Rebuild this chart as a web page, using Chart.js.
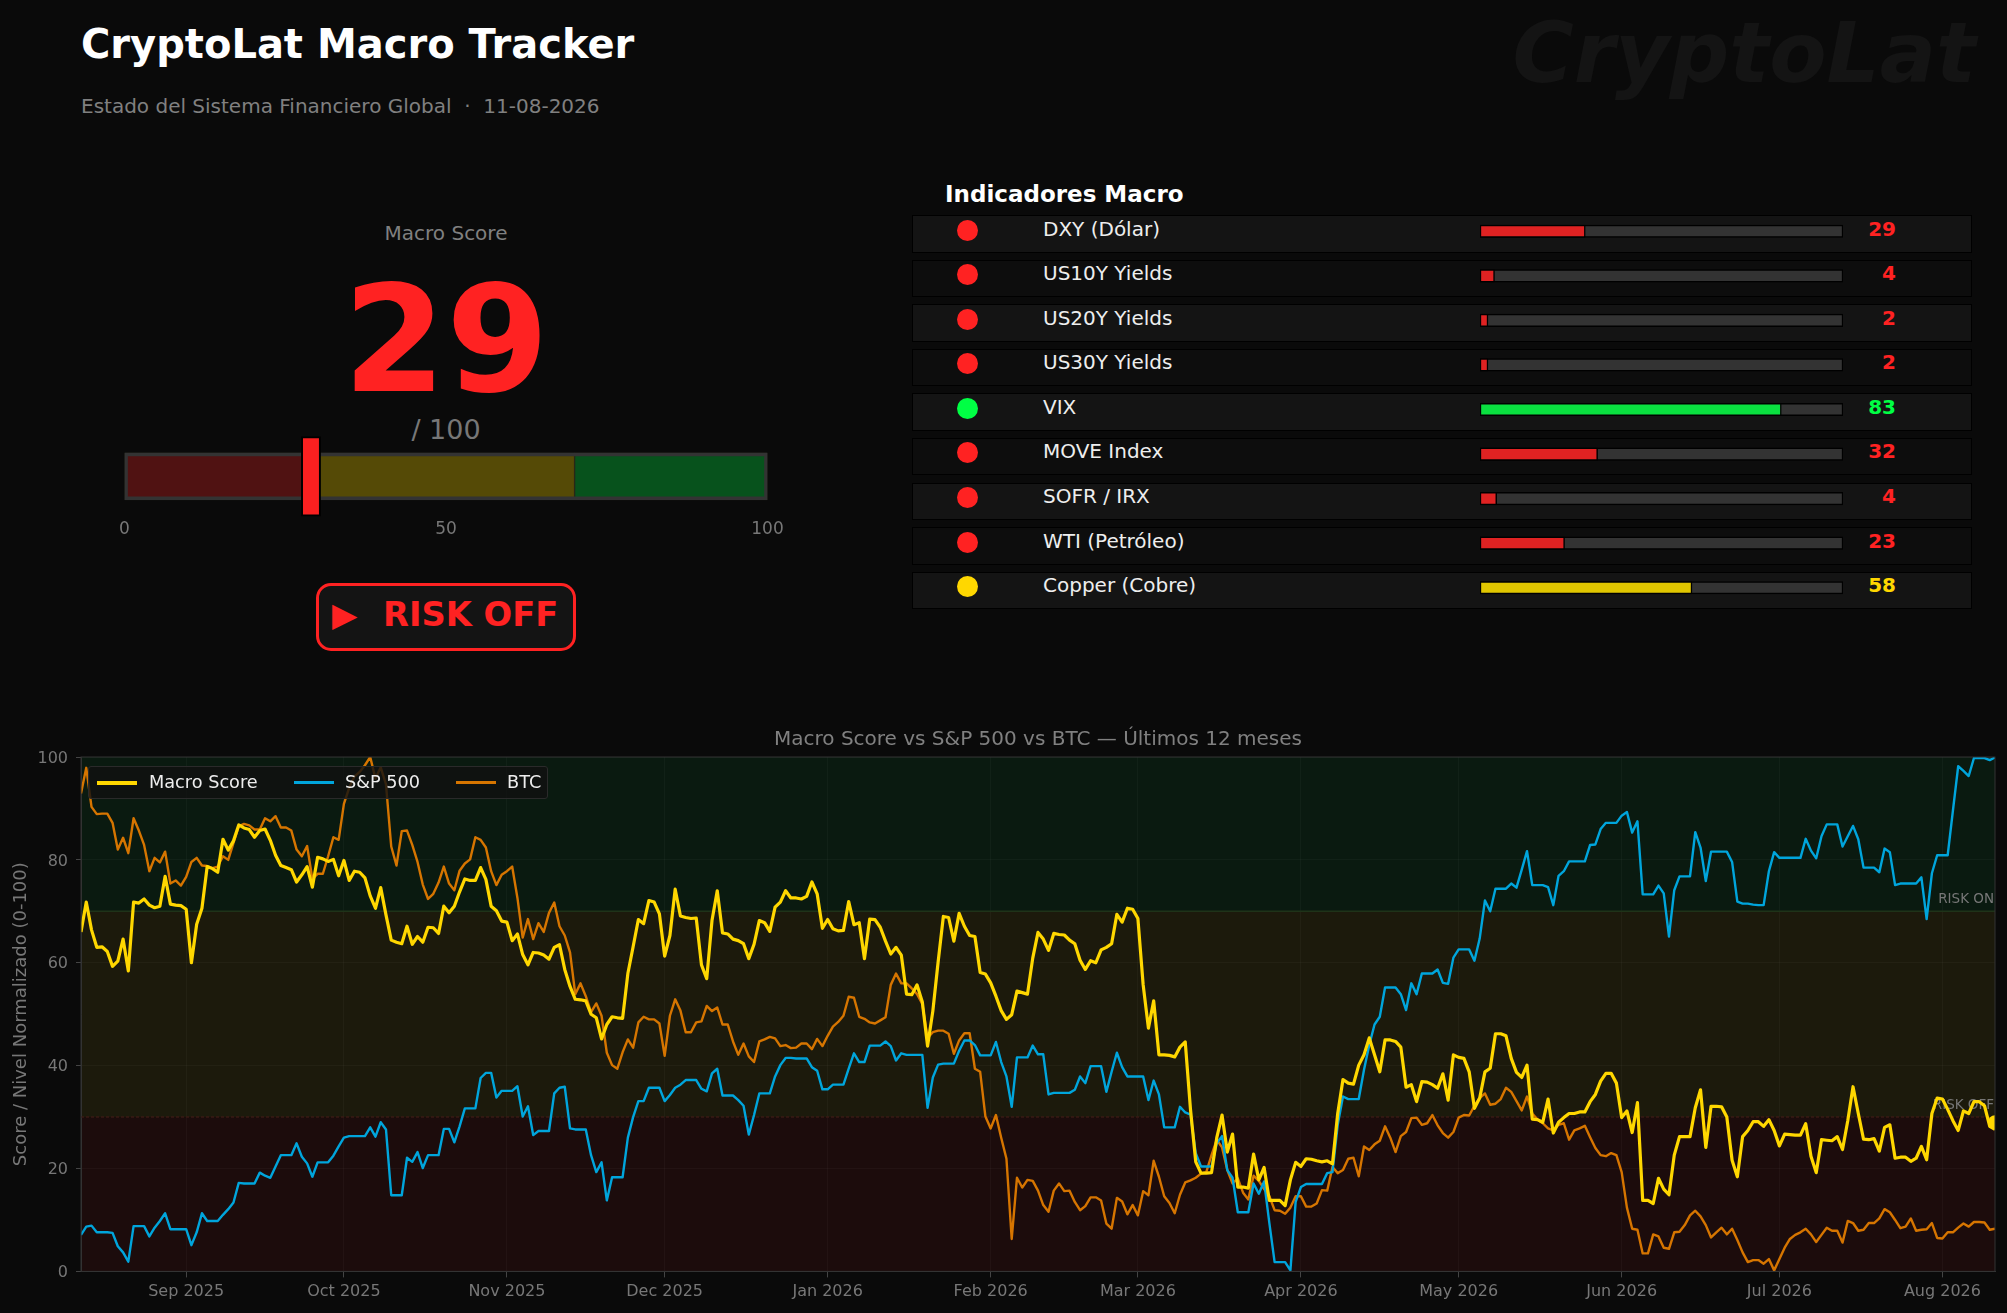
<!DOCTYPE html>
<html>
<head>
<meta charset="utf-8">
<script src="https://cdn.jsdelivr.net/npm/chart.js@4"></script>
<style>
  html, body { margin: 0; padding: 0; background: #0a0a0a; }
  body { width: 2007px; height: 1313px; position: relative; overflow: hidden; font-family: "DejaVu Sans", sans-serif; }
  .t { position: absolute; white-space: pre; line-height: 1; }
  .c { transform: translateX(-50%); }
  canvas { position: absolute; }
  .row { position: absolute; left: 912px; width: 1058px; height: 35.5px; border: 1.5px solid #000; box-sizing: content-box; }
  .dot { position: absolute; width: 21px; height: 21px; border-radius: 50%; }
  #legend { position: absolute; left: 88px; top: 766px; width: 460px; height: 33px; background: rgba(17,17,17,.82); border: 1px solid #2a2a2a; border-radius: 3px; box-sizing: border-box; }
  #legend i { position: absolute; top: 14px; width: 40px; display: block; }
  #legend span { position: absolute; top: 7px; font-size: 17.7px; line-height: 1; color: #eee; white-space: pre; }
  #badge { position: absolute; left: 316px; top: 583px; width: 260px; height: 68px; box-sizing: border-box; border: 3px solid #ff2222; border-radius: 15px; background: #141414; }
</style>
</head>
<body>
<div class="t" style="left:1976px;top:12px;transform:translateX(-100%);font-size:83.5px;font-weight:bold;font-style:italic;color:#141414">CryptoLat</div>
<div class="t" style="left:81px;top:24px;font-size:40px;font-weight:bold;color:#fff">CryptoLat Macro Tracker</div>
<div class="t" style="left:81px;top:96px;font-size:20px;color:#808080">Estado del Sistema Financiero Global  ·  11-08-2026</div>

<div class="t c" style="left:446px;top:223px;font-size:20px;color:#808080">Macro Score</div>
<div class="t c" style="left:446px;top:266px;font-size:148px;font-weight:bold;color:#ff2222">29</div>
<div class="t c" style="left:446px;top:416px;font-size:27px;color:#777">/ 100</div>
<canvas id="gauge" width="700" height="120" style="left:100px;top:430px"></canvas>
<div id="badge"></div>
<div class="t" style="left:332px;top:598px;font-size:33px;font-weight:bold;color:#ff2222">▶</div>
<div class="t" style="left:383px;top:598px;font-size:33.7px;font-weight:bold;color:#ff2222">RISK OFF</div>

<div class="t" style="left:945px;top:183px;font-size:23px;font-weight:bold;color:#fff">Indicadores Macro</div>
<div id="rows"></div>
<canvas id="bars" width="370" height="401" style="left:1477px;top:209px"></canvas>
<div id="labels"></div>

<canvas id="history" width="2007" height="593" style="left:0;top:720px"></canvas>
<div id="legend"></div>

<script>
// Gauge
const score = 29;
const gaugeZones = [[0, 30], [30, 70], [70, 100]];
const gaugeColors = ['#501212', '#554a06', '#07521c'];
const gaugeTicks = [0, 50, 100];

// Indicators
const indicatorNames = ['DXY (Dólar)', 'US10Y Yields', 'US20Y Yields', 'US30Y Yields', 'VIX', 'MOVE Index', 'SOFR / IRX', 'WTI (Petróleo)', 'Copper (Cobre)'];
const indicatorScores = [29, 4, 2, 2, 83, 32, 4, 23, 58];
const indicatorValues = [29, 4, 2.2, 2.2, 83, 32.4, 4.6, 23.3, 58.4];
const indicatorState = ['red', 'red', 'red', 'red', 'green', 'red', 'red', 'red', 'yellow'];
const stateColors = { red: '#ff2222', green: '#00ff44', yellow: '#ffd700' };
const stateBars = { red: '#e02222', green: '#0ae040', yellow: '#e0c600' };

// History, one value per day from 12 Aug 2025 to 11 Aug 2026
const monthDays = [20, 50, 81, 111, 142, 173, 201, 232, 262, 293, 323, 354];
const monthLabels = ['Sep 2025', 'Oct 2025', 'Nov 2025', 'Dec 2025', 'Jan 2026', 'Feb 2026', 'Mar 2026', 'Apr 2026', 'May 2026', 'Jun 2026', 'Jul 2026', 'Aug 2026'];
const macroScore = [
  66, 71.8, 66.4, 63, 63.1, 62.2, 59.3, 60.3, 64.6, 58.4, 71.8, 71.6, 72.4, 71.2, 70.7, 71, 76.8, 71.4, 71.2, 71.1,
  70.4, 60, 67.5, 70.6, 78.7, 78.3, 77.6, 84, 81.9, 83.7, 86.8, 86.2, 85.9, 84.4, 85.7, 86, 83.8, 80.9, 78.9, 78.5,
  78.1, 75.7, 77.1, 78.7, 74.7, 80.5, 80.2, 79.7, 80.1, 76.9, 79.9, 76, 77.8, 77.6, 76.5, 73, 70.6, 74.6, 69.3, 64.4,
  64, 63.7, 67.1, 63.6, 65.1, 64, 66.9, 66.8, 65.7, 71, 69.7, 71, 73.8, 76.3, 76, 76, 78.5, 76.2, 71, 70.1,
  68.1, 67.9, 64.3, 65.6, 61.6, 59.6, 62, 61.9, 61.5, 60.7, 63, 63.5, 58.7, 55.4, 52.9, 52.8, 52.6, 50, 49.3, 45.2,
  48, 49.5, 49.3, 49.2, 57.9, 63.1, 68.4, 67.6, 72.1, 71.8, 69.5, 61.3, 65.3, 74.3, 69.1, 68.8, 68.6, 68.7,
  59.6, 56.9, 68.2, 74, 65.8, 65.6, 64.6, 64.3, 63.7, 60.8, 63.6, 68.2, 67.8, 66.1, 70.8, 71.8, 74, 72.6, 72.6, 72.4,
  72.9, 75.7, 73.4, 66.7, 68.4, 66.6, 66.2, 66.3, 71.9, 67.4, 67.8, 60.8, 68.5, 68.4, 66.9, 64.2, 61.7, 63, 61.5, 53.9,
  53.8, 55.7, 52.4, 43.8, 50.6, 60.1, 69, 68.8, 64.2, 69.6, 67.1, 65.3, 65.1, 58.1, 57.8, 56.1, 53.5, 50.7, 49, 49.9,
  54.5, 54.2, 53.9, 60.9, 65.9, 64.6, 62.4, 65.7, 65.5, 65.4, 64.4, 63.7, 60.5, 58.7, 60.4, 60, 62.5, 63, 63.7, 69.4,
  67.9, 70.6, 70.4, 68.6, 55.7, 47.3, 52.6, 42.1, 42.1, 42, 41.7, 43.6, 44.6, 31.5, 21.3, 19.1, 19.1, 19.2, 26, 30.4,
  23.2, 26.7, 16.4, 16.4, 16.2, 22.8, 17.8, 20.2, 13.8, 13.8, 13.8, 12.8, 17.8, 21.2, 20.4, 21.9, 21.8, 21.5, 21.3, 21.5,
  20.9, 30.7, 37.3, 36.6, 36.4, 40.1, 42.1, 45.4, 42.1, 38.8, 45, 45, 44.7, 43.6, 35.8, 36.3, 33, 36.9, 36.8, 36.3,
  35.6, 38.4, 33.3, 42.1, 41.6, 41.4, 38.8, 31.7, 33.7, 38.8, 39.5, 46.2, 46.2, 45.8, 41.4, 38.7, 37.7, 40.1, 29.6, 29.5,
  29, 33.5, 26.9, 29, 29.9, 30.7, 30.7, 31, 31, 33, 34.4, 37, 38.5, 38.5, 36.6, 29.9, 31.2, 27, 32.8, 13.8,
  13.8, 13.2, 18.1, 16, 14.9, 22.6, 26.2, 26.2, 26.2, 31.8, 35.3, 24.1, 32.1, 32.1, 32, 30, 21.6, 18.4, 26.2, 27.4,
  29.1, 29.1, 28.2, 29.5, 27.4, 24.4, 26.7, 26.6, 26.5, 26.5, 28.7, 22.4, 19.2, 25.6, 25.5, 25.4, 26.2, 23.7, 29.3, 35.9,
  30.7, 25.7, 25.6, 25.8, 23.4, 28, 28.5, 22, 22.2, 22.2, 21.4, 22, 24.3, 21.7, 30.7, 33.7, 33.5, 31.5, 29.3, 27.4,
  31.2, 30.7, 33, 33, 32.2, 28.2, 27.6
];
const sp500 = [
  7.1, 8.7, 8.9, 7.6, 7.6, 7.6, 7.5, 4.9, 3.7, 1.9, 8.8, 8.8, 8.8, 6.8, 8.5, 9.8, 11.3, 8.2, 8.2, 8.2,
  8.2, 5.1, 7.6, 11.3, 9.8, 9.8, 9.8, 11, 12.1, 13.4, 17.2, 17.1, 17.1, 17.1, 19.2, 18.6, 18.2, 20.4, 22.6, 22.6,
  22.6, 24.9, 22.3, 21, 18.4, 21.2, 21.2, 21.2, 22.5, 24.3, 26, 26.3, 26.3, 26.3, 26.3, 28, 26.2, 29, 27.6, 14.8,
  14.8, 14.8, 22.1, 21.3, 23.2, 20.1, 22.6, 22.6, 22.6, 27.7, 27.7, 25.1, 28.2, 31.7, 31.7, 31.7, 37.6, 38.6, 38.6, 33.8,
  35.1, 35.1, 35.1, 36, 30.1, 32.1, 26.5, 27.3, 27.3, 27.3, 34.6, 35.7, 35.9, 27.8, 27.6, 27.6, 27.6, 22.6, 19.3, 21.2,
  13.8, 18.3, 18.3, 18.3, 26, 30, 33.1, 33.1, 35.7, 35.7, 35.7, 33.1, 34.3, 35.7, 36.3, 37.2, 37.2, 37.2,
  35.5, 35, 38.5, 39.4, 34.2, 34.2, 34.2, 33.3, 32.2, 26.6, 30.4, 34.6, 34.6, 34.6, 37.9, 40.1, 41.5, 41.5, 41.4, 41.4,
  41.4, 39.7, 39, 35.4, 35.4, 36.3, 36.3, 36.3, 39.4, 42.4, 40.7, 40.7, 43.9, 43.9, 43.9, 44.7, 43.8, 41, 42.4, 42.1,
  42.1, 42.1, 42.1, 31.8, 37.7, 40.2, 40.4, 40.4, 40.4, 42.9, 44.9, 44.9, 44, 42, 42, 42, 44.6, 40.7, 37.9, 32,
  41.6, 41.6, 41.6, 43.9, 42.2, 42.2, 34.4, 34.7, 34.7, 34.7, 34.7, 35.3, 37.9, 36.6, 39.9, 39.9, 39.9, 34.9, 38.8, 42.5,
  39.7, 37.9, 37.9, 37.9, 37.9, 33.3, 37.1, 34.4, 28, 28, 28, 32, 30.9, 30.5, 23, 20.4, 20.4, 20.4, 24.9, 26.3,
  19.7, 18.2, 11.5, 11.5, 11.5, 17.1, 15.1, 17.5, 9.4, 1.8, 1.8, 1.8, 0.2, 13.5, 16.4, 17, 17, 17, 17, 19.1,
  19.3, 28.5, 34, 33.5, 33.5, 33.5, 39.2, 44, 48, 49.5, 55.2, 55.2, 55.2, 53.9, 50.8, 56, 53.9, 57.9, 57.9, 57.9,
  58.7, 56.1, 55.9, 61, 62.6, 62.6, 62.6, 60.4, 64.7, 72.1, 70, 74.4, 74.4, 74.4, 75.4, 74.6, 78.1, 81.7, 75.1, 75.1,
  75.1, 74.7, 71.2, 76.9, 77.8, 79.7, 79.7, 79.7, 79.7, 82.9, 83, 86, 87.2, 87.2, 87.2, 88.6, 89.3, 85.3, 87.5, 73.3,
  73.3, 73.3, 75, 73.5, 65.1, 74.1, 76.8, 76.8, 76.8, 85.4, 82.4, 75.9, 81.6, 81.6, 81.6, 81.6, 79.6, 71.9, 71.5, 71.5,
  71.3, 71.2, 71.2, 77.8, 81.5, 80.4, 80.4, 80.4, 80.4, 80.4, 84.1, 81.8, 80.3, 84.6, 86.9, 86.9, 86.9, 82.6, 84.6, 86.6,
  84, 78.5, 78.5, 78.5, 77.6, 82.2, 81.5, 75.1, 75.4, 75.4, 75.4, 75.4, 76.6, 68.5, 77.4, 80.9, 80.9, 80.9, 89.6, 98.2,
  97.3, 96.3, 99.8, 99.8, 99.8, 99.4, 99.9
];
const btc = [
  92.9, 97.9, 90.3, 88.9, 89, 89, 87.2, 82, 84.3, 81.3, 88.1, 85.7, 82.9, 77.8, 80.4, 79.5, 81.6, 75.4, 76, 75,
  76.7, 79.6, 80.4, 78.9, 78.8, 78.4, 78.7, 80.7, 80, 83.3, 86.5, 87, 86.7, 85.9, 85.9, 88.1, 87.5, 88.5, 86.3, 86.3,
  85.7, 82, 80.7, 82.7, 76.3, 77.3, 77.3, 80.7, 84.4, 83.9, 90.9, 94, 96.2, 97.1, 98.4, 100, 95.8, 98, 94.7, 82.6,
  78.9, 85.6, 85.7, 82.9, 79.6, 75.2, 72.4, 73.4, 75.6, 78.7, 75.4, 74.1, 77.9, 79.3, 80.1, 84.4, 83.9, 82.4, 77.8, 75.1,
  77.1, 77.8, 78.7, 72.6, 64.9, 68.5, 64.6, 67.7, 66, 69.7, 71.7, 67.1, 65.3, 62, 53.9, 56, 53.5, 50.4, 52.1, 49.7,
  42.5, 40.1, 39.4, 42.6, 45.1, 43.5, 48.4, 49.5, 49, 49, 48.2, 41.9, 49.7, 52.9, 50.7, 46.5, 46.5, 48.4,
  48.6, 51.6, 50.6, 51.3, 48, 48, 44.7, 42.1, 44.3, 41.8, 40.7, 44.7, 45.1, 45.6, 45.3, 43.8, 44, 43.4, 43.5, 44.3,
  44.3, 43.2, 45.2, 43.8, 45.8, 47.6, 48.5, 49.7, 53.4, 53.2, 49.5, 49.1, 48.4, 48.2, 48.8, 49.4, 55.7, 57.9, 56, 56,
  55, 53.9, 52, 45.4, 46.5, 46.8, 46.8, 46.2, 42.3, 44.9, 46.3, 46.3, 39.4, 38.8, 30.1, 27.8, 30.4, 26, 21.9, 6.3,
  18.2, 16.3, 17.8, 17.6, 15.7, 12.9, 11.6, 15.7, 17.1, 15.6, 15.7, 13.5, 11.9, 12.7, 14.4, 14.4, 13.8, 9.3, 8.3, 14.3,
  13.6, 11.1, 12.9, 10.9, 15.6, 14.8, 21.5, 18.4, 14.6, 13.3, 11.3, 14.9, 17.3, 17.7, 18.2, 19, 19.3, 22.6, 25.6, 24.1,
  19.7, 17.1, 18.1, 15.3, 14, 18.6, 17.6, 16, 14.6, 11.9, 11.8, 11.2, 12.4, 14.6, 14.6, 12.6, 12.6, 13.2, 15.8, 15.7,
  20.3, 19.1, 19.7, 21.9, 22.1, 18.5, 24.3, 23.6, 24.7, 25.4, 28.2, 26, 23.2, 26.3, 27.1, 29.8, 29.9, 28.5, 28.8, 30.4,
  28.4, 26.9, 26, 27.1, 29.9, 30.4, 30.3, 32.2, 33.7, 34.6, 32.4, 32.6, 33.5, 35.7, 34.9, 33.1, 31.3, 34, 30.7, 29.5,
  28.8, 27.8, 27.4, 28.5, 28.8, 25.6, 27.4, 27.8, 28.3, 26.1, 24, 22.6, 22.4, 23, 22.6, 19.3, 12.4, 8.3, 8.1, 3.5,
  3.5, 7.2, 6.8, 4.6, 4.4, 7.6, 7.7, 9, 10.9, 11.8, 10.7, 9, 6.6, 7.6, 8.5, 7.2, 8.3, 6.1, 3.7, 1.8,
  2.2, 2.2, 1.5, 2.4, 0.2, 2.4, 4.6, 6.3, 7.1, 7.6, 8.3, 7.2, 5.7, 7.1, 8.5, 7.9, 7.9, 5.6, 9.8, 9.4,
  7.9, 8.1, 9.4, 9.4, 10.3, 12.1, 11.5, 10, 8.4, 8.7, 10.3, 7.9, 8.1, 8.2, 9.4, 6.5, 6.4, 7.6, 7.6, 8.5,
  9.3, 8.7, 9.6, 9.6, 9.5, 8.1, 8.3
];
const seriesNames = ['Macro Score', 'S&P 500', 'BTC'];
const seriesColors = ['#ffd700', '#00a5dc', '#d67500'];
const seriesWidths = [3.2, 2.4, 2.4];
const legendX = [[8, 60], [205, 256], [367, 418]];

// Regime bands on the history chart
const bandRanges = [[0, 30], [30, 70], [70, 100]];
const bandColors = ['#1c0c0c', '#1c1a0c', '#0a1a10'];

const font = '"DejaVu Sans"';
Chart.defaults.font.family = font;
Chart.defaults.animation = false;

// Gauge chart
new Chart(document.getElementById('gauge'), {
  type: 'bar',
  data: {
    labels: ['score'],
    datasets: [
      { data: [[score - 1.5, score + 1.5]], backgroundColor: '#fa2020', borderColor: '#000', borderWidth: 2, barThickness: 79.5, borderSkipped: false },
      { data: [[0, 100]], backgroundColor: 'transparent', borderColor: '#333', borderWidth: 3, barThickness: 47, borderSkipped: false },
      ...gaugeZones.map((z, i) => ({ data: [z], backgroundColor: gaugeColors[i], borderColor: '#2a2a1a', borderWidth: 1, barThickness: 47, borderSkipped: false }))
    ]
  },
  options: {
    indexAxis: 'y',
    responsive: false,
    layout: { padding: { left: 24.5, right: 32.5, top: 4.3, bottom: 0 } },
    plugins: { legend: { display: false }, tooltip: { enabled: false } },
    datasets: { bar: { grouped: false } },
    scales: {
      y: { display: false },
      x: {
        min: 0, max: 100,
        afterFit: s => { s.height = 31.7; },
        afterBuildTicks: s => { s.ticks = gaugeTicks.map(v => ({ value: v })); },
        grid: { display: false, drawTicks: false },
        border: { display: false },
        ticks: { color: '#777', font: { size: 17 }, padding: 1, maxRotation: 0 }
      }
    }
  }
});

// Indicator rows and labels
const rows = document.getElementById('rows');
const labels = document.getElementById('labels');
indicatorNames.forEach((name, i) => {
  const top = 215.2 + 44.55 * i;
  const color = stateColors[indicatorState[i]];
  rows.innerHTML += `<div class="row" style="top:${top}px;background:${i % 2 ? '#0d0d0d' : '#141414'}"></div>`;
  labels.innerHTML += `<div class="dot" style="left:957px;top:${top + 4.5}px;background:${color}"></div>`
    + `<div class="t" style="left:1043px;top:${top + 3.5}px;font-size:20px;color:#eee">${name}</div>`
    + `<div class="t" style="left:1896px;top:${top + 3.5}px;transform:translateX(-100%);font-size:20px;font-weight:bold;color:${color}">${indicatorScores[i]}</div>`;
});

new Chart(document.getElementById('bars'), {
  type: 'bar',
  data: {
    labels: indicatorNames,
    datasets: [
      { data: indicatorValues, backgroundColor: indicatorState.map(s => stateBars[s]), borderColor: '#000', borderWidth: 1.5, barThickness: 12.5, borderSkipped: false },
      { data: indicatorNames.map(() => 100), backgroundColor: '#333', borderColor: '#000', borderWidth: 1.5, barThickness: 12.5, borderSkipped: false }
    ]
  },
  options: {
    indexAxis: 'y',
    responsive: false,
    layout: { padding: { left: 3, right: 4 } },
    plugins: { legend: { display: false }, tooltip: { enabled: false } },
    datasets: { bar: { grouped: false } },
    scales: {
      x: { display: false, min: 0, max: 100 },
      y: { display: false }
    }
  }
});

// Bands, their edges and labels sit behind the lines
const bandsPlugin = {
  id: 'bands',
  beforeDraw(chart) {
    const { ctx, chartArea: a, scales: { y } } = chart;
    ctx.save();
    bandRanges.forEach((r, i) => {
      ctx.fillStyle = bandColors[i];
      ctx.fillRect(a.left, y.getPixelForValue(r[1]), a.width, y.getPixelForValue(r[0]) - y.getPixelForValue(r[1]));
    });
    ctx.restore();
  },
  beforeDatasetsDraw(chart) {
    const { ctx, chartArea: a, scales: { y } } = chart;
    ctx.save();
    ctx.lineWidth = 1.5;
    ctx.strokeStyle = '#1f3319';
    ctx.beginPath();
    ctx.moveTo(a.left, y.getPixelForValue(70));
    ctx.lineTo(a.right, y.getPixelForValue(70));
    ctx.stroke();
    ctx.strokeStyle = '#3a1a14';
    ctx.setLineDash([3, 2]);
    ctx.beginPath();
    ctx.moveTo(a.left, y.getPixelForValue(30));
    ctx.lineTo(a.right, y.getPixelForValue(30));
    ctx.stroke();
    ctx.setLineDash([]);
    ctx.fillStyle = '#777';
    ctx.font = '13.5px ' + font;
    ctx.textAlign = 'right';
    ctx.textBaseline = 'middle';
    ctx.fillText('RISK ON', a.right - 1, y.getPixelForValue(72.3));
    ctx.fillText('RISK OFF', a.right - 1, y.getPixelForValue(32.3));
    ctx.restore();
  },
  afterDatasetsDraw(chart) {
    const { ctx, chartArea: a } = chart;
    ctx.save();
    ctx.strokeStyle = '#333';
    ctx.lineWidth = 1;
    ctx.strokeRect(a.left, a.top, a.width, a.height);
    ctx.restore();
  }
};

const toPoints = values => values.map((v, i) => ({ x: i, y: v }));

// History chart
new Chart(document.getElementById('history'), {
  type: 'line',
  data: {
    datasets: [
      { label: 'now', data: [{ x: macroScore.length - 1, y: score }], showLine: false, pointRadius: 7, pointBackgroundColor: '#ffd700', pointBorderWidth: 0, clip: 0 },
      ...seriesNames.map((name, i) => ({
        label: name,
        data: toPoints([macroScore, sp500, btc][i]),
        borderColor: seriesColors[i],
        borderWidth: seriesWidths[i],
        pointRadius: 0,
        tension: 0,
        borderJoinStyle: 'round',
        clip: 0
      }))
    ]
  },
  options: {
    responsive: false,
    parsing: false,
    normalized: true,
    layout: { padding: { right: 12 } },
    plugins: {
      legend: { display: false },
      tooltip: { enabled: false },
      title: {
        display: true,
        fullSize: false,
        text: 'Macro Score vs S&P 500 vs BTC — Últimos 12 meses',
        color: '#808080',
        font: { size: 20, weight: 'normal' },
        padding: { top: 8, bottom: 5 }
      }
    },
    scales: {
      x: {
        type: 'linear',
        min: 0,
        max: 364,
        afterFit: s => { s.height = 41.6; },
        afterBuildTicks: s => { s.ticks = monthDays.map(v => ({ value: v })); },
        grid: { color: 'rgba(255,255,255,0.03)', tickColor: '#444', tickLength: 6 },
        border: { color: '#333' },
        ticks: {
          color: '#777',
          font: { size: 16 },
          padding: 5,
          maxRotation: 0,
          autoSkip: false,
          callback: v => monthLabels[monthDays.indexOf(v)]
        }
      },
      y: {
        min: 0,
        max: 100,
        afterFit: s => { s.width = 81; },
        grid: { color: 'rgba(255,255,255,0.03)', tickColor: '#444', tickLength: 5 },
        border: { color: '#333' },
        ticks: { color: '#777', font: { size: 16 }, stepSize: 20, padding: 8, labelOffset: 1.5 },
        title: { display: true, text: 'Score / Nivel Normalizado (0-100)', color: '#777', font: { size: 18 }, padding: { top: 11, bottom: 0 } }
      }
    }
  },
  plugins: [bandsPlugin]
});

// Legend over the history chart
const legend = document.getElementById('legend');
seriesNames.forEach((name, i) => {
  legend.innerHTML += `<i style="left:${legendX[i][0]}px;height:${Math.ceil(seriesWidths[i])}px;background:${seriesColors[i]}"></i>`
    + `<span style="left:${legendX[i][1]}px">${name.replace('&', '&amp;')}</span>`;
});
</script>
</body>
</html>
